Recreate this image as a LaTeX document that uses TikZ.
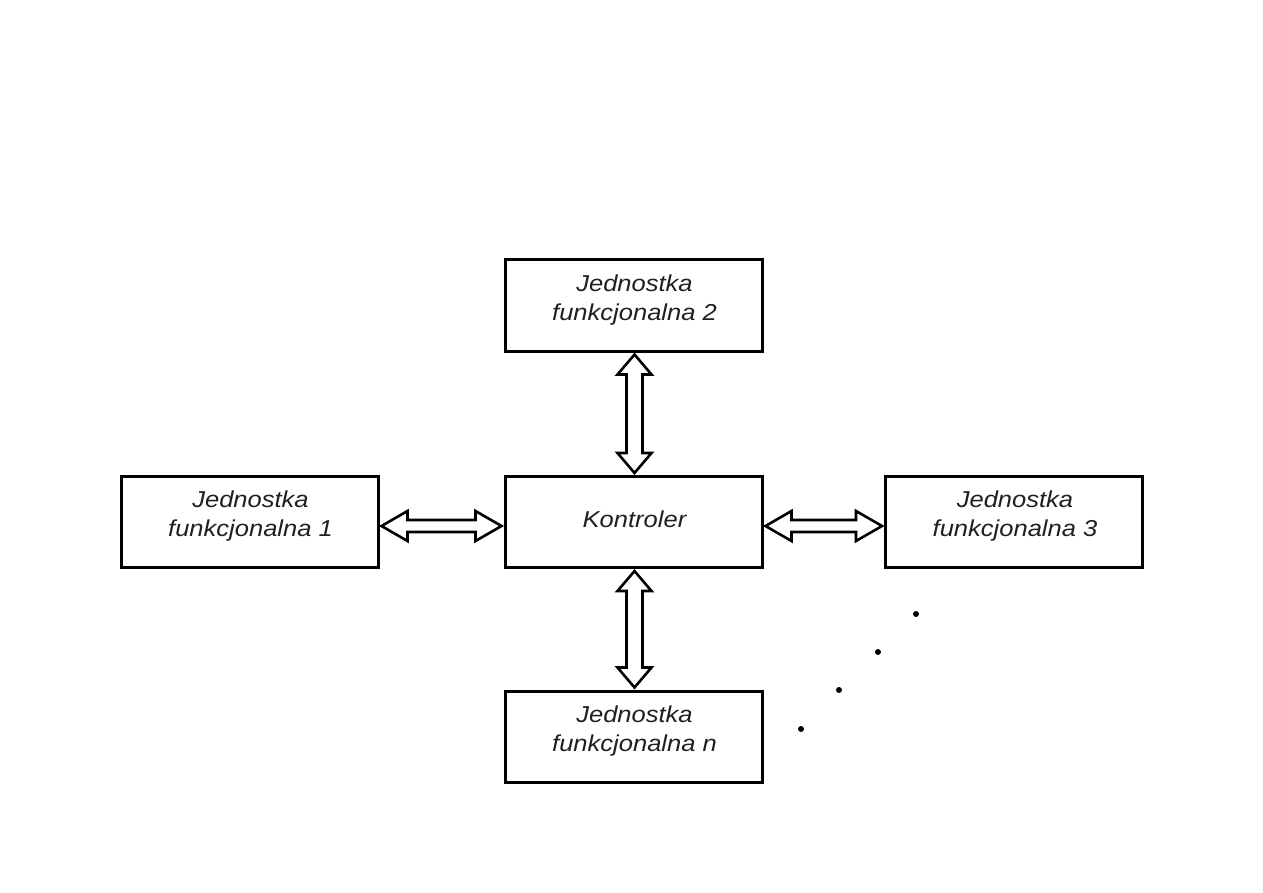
\documentclass[tikz,border=0pt]{standalone}
\usepackage{fontspec}
\setmainfont{Liberation Sans}
\newfontfamily\labelfont[FakeStretch=1.11]{Liberation Sans}
\usetikzlibrary{calc}
\definecolor{textc}{HTML}{202020}
\tikzset{
  unit/.style={draw, line width=3pt, minimum width=257pt, minimum height=91pt, inner sep=0pt},
  lbl/.style={font=\labelfont\fontsize{23}{29}\selectfont\itshape, align=center, text=textc, inner sep=0pt},
  dblarrow/.style={draw, line width=2.6pt, fill=white, line join=miter},
  dotmark/.style={fill=black}
}
% horizontal double arrow between anchors #1 (left) and #2 (right)
\newcommand\myharr[2]{%
  \path[dblarrow] ($(#1)+(2,4)$) -- ($(#1)+(28,-11)$) -- ($(#1)+(28,-2)$)
    -- ($(#2)+(-28,-2)$) -- ($(#2)+(-28,-11)$) -- ($(#2)+(-2,4)$)
    -- ($(#2)+(-28,19)$) -- ($(#2)+(-28,10)$) -- ($(#1)+(28,10)$)
    -- ($(#1)+(28,19)$) -- cycle;}
% vertical double arrow between anchors #1 (top) and #2 (bottom)
\newcommand\myvarr[2]{%
  \path[dblarrow] ($(#1)+(1,2)$) -- ($(#1)+(18,22)$) -- ($(#1)+(9,22)$)
    -- ($(#2)+(9,-22)$) -- ($(#2)+(18,-22)$) -- ($(#2)+(1,-2)$)
    -- ($(#2)+(-16,-22)$) -- ($(#2)+(-7,-22)$) -- ($(#1)+(-7,22)$)
    -- ($(#1)+(-16,22)$) -- cycle;}
\begin{document}
\begin{tikzpicture}[x=1pt, y=-1pt]
  \fill[white] (0,0) rectangle (1263,893);
  \useasboundingbox (0,0) rectangle (1263,893);

  \node[unit] (F2) at (633.5,305.5) {};
  \node[unit] (K)  at (633.5,522) {};
  \node[unit] (F1) at (249.5,522) {};
  \node[unit] (F3) at (1014,522) {};
  \node[unit] (Fn) at (633.5,736.5) {};

  \node[lbl] (t2) at ($(F2.center)+(1,-5)$) {Jednostka\\funkcjonalna 2};
  \node[lbl] (tk) at ($(K.center)+(1,-3)$) {Kontroler};
  \node[lbl] (t1) at ($(F1.center)+(1,-6)$) {Jednostka\\funkcjonalna 1};
  \node[lbl] (t3) at ($(F3.center)+(1,-6)$) {Jednostka\\funkcjonalna 3};
  \node[lbl] (tn) at ($(Fn.center)+(1,-5)$) {Jednostka\\funkcjonalna n};

  \myharr{F1.east}{K.west}
  \myharr{K.east}{F3.west}
  \myvarr{F2.south}{K.north}
  \myvarr{K.south}{Fn.north}

  \fill[dotmark] (916,614) circle (3);
  \fill[dotmark] (878,652) circle (3);
  \fill[dotmark] (839,690) circle (3);
  \fill[dotmark] (801,729) circle (3);
\end{tikzpicture}
\end{document}
